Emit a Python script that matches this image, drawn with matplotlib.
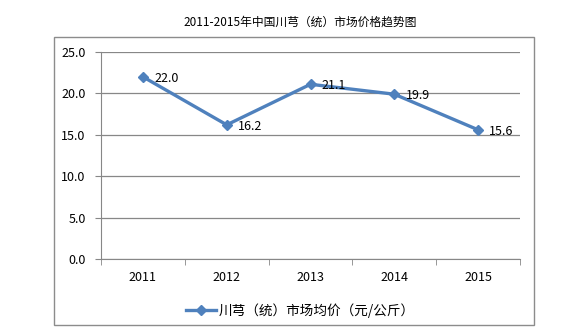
import matplotlib
matplotlib.use('Agg')
import matplotlib.pyplot as plt
from matplotlib.patches import Rectangle

plt.rcParams['font.family'] = ['Noto Sans CJK SC', 'DejaVu Sans']

years = ['2011', '2012', '2013', '2014', '2015']
prices = [22.0, 16.2, 21.1, 19.9, 15.6]
title = '2011-2015年中国川芎（统）市场价格趋势图'
series_name = '川芎（统）市场均价（元/公斤）'

LINE_C = '#4F81BD'
GRID_C = '#878787'

fig = plt.figure(figsize=(5.86, 3.36), dpi=100)
fig.patch.set_facecolor('white')

# outer chart frame
fig.patches.append(Rectangle((0.092, 0.033), 0.819, 0.857, transform=fig.transFigure,
                             fill=False, edgecolor='#8c8c8c', linewidth=1.0))
fig.text(0.512, 0.934, title, ha='center', va='center', fontsize=8.5, color='black')

ax = fig.add_axes([0.1724, 0.2292, 0.715, 0.6161])
x = list(range(len(years)))
line, = ax.plot(x, prices, color=LINE_C, linewidth=2.4, marker='D', markersize=5.5,
                markerfacecolor=LINE_C, markeredgecolor=LINE_C, label=series_name, zorder=3)
for xi, v in zip(x, prices):
    ax.annotate(f'{v:.1f}', (xi, v), xytext=(8, -1), textcoords='offset points',
                ha='left', va='center', fontsize=9, color='black', zorder=4)

ax.set_xlim(-0.5, len(years) - 0.5)
ax.set_ylim(0, 25)
ax.set_yticks([0, 5, 10, 15, 20, 25])
ax.set_yticklabels([f'{t:.1f}' for t in [0, 5, 10, 15, 20, 25]])
ax.set_xticks(x)
ax.set_xticklabels(years)
ax.set_xticks([i - 0.5 for i in range(len(years) + 1)], minor=True)
ax.tick_params(axis='x', which='major', length=0, pad=9, labelsize=9)
ax.tick_params(axis='x', which='minor', length=4, color=GRID_C, direction='out')
ax.tick_params(axis='y', length=4, color=GRID_C, labelsize=9, pad=7)

ax.grid(axis='y', color=GRID_C, linewidth=0.9)
ax.set_axisbelow(True)
for s in ['top', 'right']:
    ax.spines[s].set_visible(False)
ax.spines['left'].set_color(GRID_C)
ax.spines['bottom'].set_color(GRID_C)

fig.legend(handles=[line], loc='center', bbox_to_anchor=(0.512, 0.075), frameon=False,
           fontsize=9.8, handlelength=2.2, handletextpad=0.2)

fig.savefig('out.png', dpi=100)
